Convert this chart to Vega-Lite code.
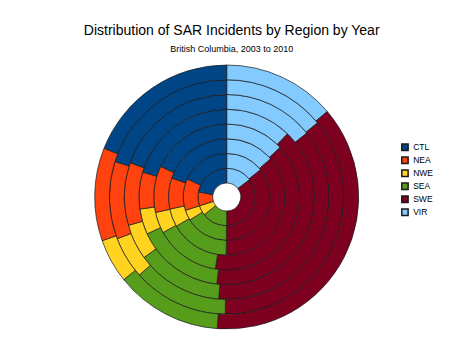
{
  "$schema": "https://vega.github.io/schema/vega-lite/v6.json",
  "autosize": "none",
  "width": 263.4,
  "height": 264,
  "padding": {"left": 95, "top": 65, "right": 104.6, "bottom": 28},
  "background": "white",
  "title": {
    "text": "Distribution of SAR Incidents by Region by Year",
    "subtitle": "British Columbia, 2003 to 2010",
    "frame": "group",
    "anchor": "middle",
    "dx": 5,
    "offset": 10,
    "font": "Liberation Sans",
    "fontSize": 14,
    "fontWeight": "normal",
    "color": "#000000",
    "subtitleFont": "Liberation Sans",
    "subtitleFontSize": 9,
    "subtitleColor": "#000000",
    "subtitlePadding": 7
  },
  "data": {
    "values": [
      {"year": 2003, "region": "VIR", "share": 14.7},
      {"year": 2003, "region": "SWE", "share": 35.3},
      {"year": 2003, "region": "SEA", "share": 14.4},
      {"year": 2003, "region": "NWE", "share": 5.6},
      {"year": 2003, "region": "NEA", "share": 7.8},
      {"year": 2003, "region": "CTL", "share": 22.2},
      {"year": 2004, "region": "VIR", "share": 14.2},
      {"year": 2004, "region": "SWE", "share": 36.0},
      {"year": 2004, "region": "SEA", "share": 16.0},
      {"year": 2004, "region": "NWE", "share": 3.9},
      {"year": 2004, "region": "NEA", "share": 11.8},
      {"year": 2004, "region": "CTL", "share": 18.2},
      {"year": 2005, "region": "VIR", "share": 13.6},
      {"year": 2005, "region": "SWE", "share": 36.5},
      {"year": 2005, "region": "SEA", "share": 16.5},
      {"year": 2005, "region": "NWE", "share": 5.0},
      {"year": 2005, "region": "NEA", "share": 8.6},
      {"year": 2005, "region": "CTL", "share": 19.7},
      {"year": 2006, "region": "VIR", "share": 13.1},
      {"year": 2006, "region": "SWE", "share": 39.4},
      {"year": 2006, "region": "SEA", "share": 14.4},
      {"year": 2006, "region": "NWE", "share": 4.7},
      {"year": 2006, "region": "NEA", "share": 10.3},
      {"year": 2006, "region": "CTL", "share": 18.1},
      {"year": 2007, "region": "VIR", "share": 12.2},
      {"year": 2007, "region": "SWE", "share": 39.6},
      {"year": 2007, "region": "SEA", "share": 16.3},
      {"year": 2007, "region": "NWE", "share": 4.7},
      {"year": 2007, "region": "NEA", "share": 6.8},
      {"year": 2007, "region": "CTL", "share": 20.4},
      {"year": 2008, "region": "VIR", "share": 14.3},
      {"year": 2008, "region": "SWE", "share": 37.0},
      {"year": 2008, "region": "SEA", "share": 13.7},
      {"year": 2008, "region": "NWE", "share": 5.6},
      {"year": 2008, "region": "NEA", "share": 9.9},
      {"year": 2008, "region": "CTL", "share": 19.6},
      {"year": 2009, "region": "VIR", "share": 14.1},
      {"year": 2009, "region": "SWE", "share": 36.1},
      {"year": 2009, "region": "SEA", "share": 13.2},
      {"year": 2009, "region": "NWE", "share": 5.8},
      {"year": 2009, "region": "NEA", "share": 10.7},
      {"year": 2009, "region": "CTL", "share": 20.1},
      {"year": 2010, "region": "VIR", "share": 13.8},
      {"year": 2010, "region": "SWE", "share": 37.4},
      {"year": 2010, "region": "SEA", "share": 13.1},
      {"year": 2010, "region": "NWE", "share": 5.4},
      {"year": 2010, "region": "NEA", "share": 11.4},
      {"year": 2010, "region": "CTL", "share": 19.0}
    ]
  },
  "mark": {"type": "arc", "radius2Offset": -14.75, "stroke": "#1a1a1a", "strokeWidth": 0.7},
  "encoding": {
    "theta": {"field": "share", "type": "quantitative", "stack": "normalize"},
    "radius": {
      "field": "year",
      "type": "quantitative",
      "scale": {"type": "linear", "domain": [2002, 2010], "range": [14, 132]}
    },
    "radius2": {"field": "year"},
    "order": {"field": "region", "sort": "descending"},
    "color": {
      "field": "region",
      "type": "nominal",
      "scale": {
        "domain": ["CTL", "NEA", "NWE", "SEA", "SWE", "VIR"],
        "range": ["#004586", "#ff420e", "#ffd320", "#579d1c", "#7e0021", "#83caff"]
      },
      "legend": {
        "title": null,
        "orient": "none",
        "legendX": 305.7,
        "legendY": 78,
        "symbolType": "square",
        "symbolSize": 40,
        "labelFont": "Liberation Sans",
        "labelFontSize": 8.5,
        "labelColor": "#000000",
        "labelOffset": 4,
        "rowPadding": 0,
        "padding": 0,
        "encode": {
          "symbols": {"update": {"stroke": {"value": "#808080"}, "strokeWidth": {"value": 1}, "opacity": {"value": 1}}}
        }
      }
    }
  },
  "config": {
    "view": {"stroke": null},
    "font": "Liberation Sans"
  }
}
